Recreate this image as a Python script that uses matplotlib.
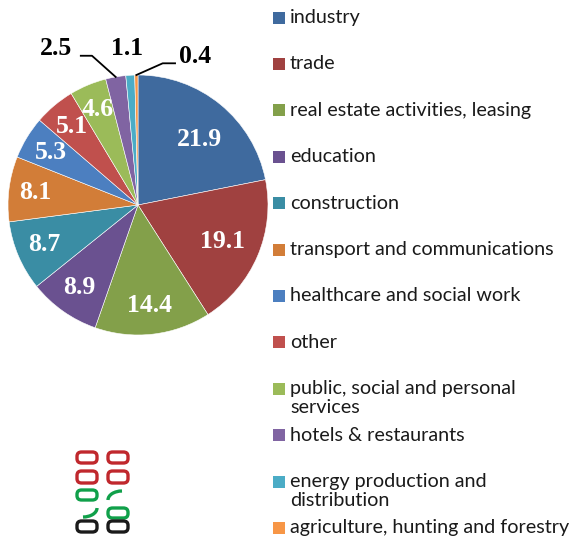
import numpy as np
import matplotlib
matplotlib.use("Agg")
import matplotlib.pyplot as plt
from matplotlib.patches import Rectangle, FancyBboxPatch, Arc

categories = ["industry", "trade", "real estate activities, leasing", "education",
              "construction", "transport and communications", "healthcare and social work",
              "other", "public, social and personal\nservices", "hotels & restaurants",
              "energy production and\ndistribution", "agriculture, hunting and forestry"]
values = [21.9, 19.1, 14.4, 8.9, 8.7, 8.1, 5.3, 5.1, 4.6, 2.5, 1.1, 0.4]
colors = ["#3F6A9E", "#A04140", "#83A04A", "#6A5190", "#3A8DA4", "#D27D38",
          "#4C7FC0", "#C0504D", "#9BBB59", "#8064A2", "#4BACC6", "#F79646"]

W, H = 574, 539
fig = plt.figure(figsize=(W / 100, H / 100), dpi=100)
fig.patch.set_facecolor("white")

cx, cy, R = 138, 205, 130
ax = fig.add_axes([(cx - R) / W, (H - cy - R) / H, 2 * R / W, 2 * R / H])

wedges, _ = ax.pie(values, colors=colors, startangle=90, counterclock=False, radius=1,
                   wedgeprops=dict(edgecolor="white", linewidth=0.4))
ax.set_xlim(-1, 1)
ax.set_ylim(-1, 1)
ax.set_aspect("equal")
ax.axis("off")

num_font = dict(family="Liberation Serif", fontweight="bold", fontsize=18.5)
total = sum(values)
cum = 0.0
mids = []
for v in values:
    mid = 90 - 360 * (cum + v / 2) / total
    mids.append(np.deg2rad(mid))
    cum += v

label_r = [0.69, 0.71, 0.78, 0.78, 0.78, 0.80, 0.78, 0.79, 0.80]
for i, r in enumerate(label_r):
    a = mids[i] + (np.deg2rad(-3.5) if i == 0 else 0)
    ax.text(r * np.cos(a), r * np.sin(a), f"{values[i]}", color="white",
            ha="center", va="center", **num_font)

# outside labels
def outer(i, tx, ty, elbow=None, end=None):
    a = mids[i]
    if elbow is not None:
        ax.plot([np.cos(a), elbow[0], end[0]], [np.sin(a), elbow[1], end[1]],
                color="black", lw=1.3, clip_on=False)
    ax.text(tx, ty, f"{values[i]}", color="black", ha="center", va="center",
            clip_on=False, **num_font)

outer(9, -0.63, 1.205, elbow=(-0.354, 1.148), end=(-0.44, 1.148))
outer(10, -0.085, 1.205)
outer(11, 0.44, 1.14, elbow=(0.19, 1.09), end=(0.285, 1.09))

# legend
lx = 273
ly0 = 17.5
step = 46.4
for i, lab in enumerate(categories):
    yc = ly0 + i * step
    fig.patches.append(Rectangle((lx / W, 1 - (yc + 6) / H), 12 / W, 12 / H,
                                 transform=fig.transFigure, facecolor=colors[i],
                                 edgecolor="none"))
    fig.text(290 / W, 1 - (yc - 8.5) / H, lab, fontsize=14.2, family="Lato",
             color="#1a1a1a", ha="left", va="top", linespacing=1.12)

# logo (approximate)
def box(x0, y0, w, h, col):
    fig.patches.append(FancyBboxPatch((x0 / W, 1 - (y0 + h) / H), w / W, h / H,
                                      boxstyle="round,pad=0,rounding_size=0.008",
                                      transform=fig.transFigure, facecolor="none",
                                      edgecolor=col, linewidth=2.4))

red, green, black = "#C0282D", "#10A04A", "#1a1a1a"
cols = [77, 108]
box(cols[0], 452, 20, 11, red); box(cols[1], 452, 20, 11, red)
box(cols[0], 471, 20, 12, red); box(cols[1], 471, 20, 12, red)
box(cols[0], 490, 20, 10, green)
box(cols[1], 508, 20, 10, green)
fig.patches.append(Arc(((cols[1] + 14) / W, 1 - 500 / H), 28 / W, 18 / H, theta1=90, theta2=180,
                       transform=fig.transFigure, color=green, lw=2.4))
fig.patches.append(Arc(((cols[0] + 6) / W, 1 - 508 / H), 28 / W, 18 / H, theta1=270, theta2=360,
                       transform=fig.transFigure, color=green, lw=2.4))
box(cols[0], 521, 20, 11, black); box(cols[1], 521, 20, 11, black)

fig.savefig("out.png", dpi=100, facecolor="white")
